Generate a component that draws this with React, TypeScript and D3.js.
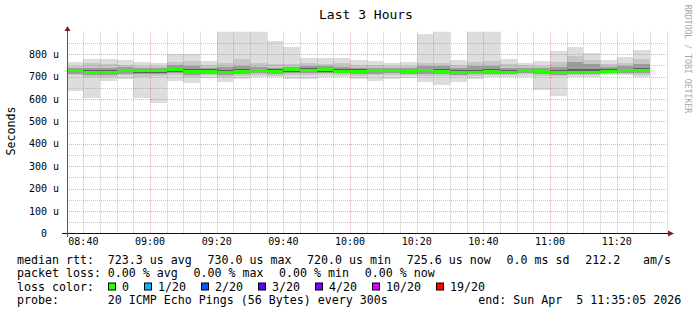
import React from 'react';
import * as d3 from 'd3';

const W = 697;
const H = 315;

// 5-minute slots (start times, UTC-labelled)
const slotStarts = [
  '08:35', '08:40', '08:45', '08:50', '08:55',
  '09:00', '09:05', '09:10', '09:15', '09:20', '09:25', '09:30', '09:35', '09:40', '09:45', '09:50', '09:55',
  '10:00', '10:05', '10:10', '10:15', '10:20', '10:25', '10:30', '10:35', '10:40', '10:45', '10:50', '10:55',
  '11:00', '11:05', '11:10', '11:15', '11:20', '11:25',
];

// values in microseconds
const median = [726, 720, 720, 725, 726, 725, 730, 724, 723, 720, 724, 726, 724, 730, 729, 730, 724, 723, 726, 727, 723, 725, 723, 720, 720, 723, 720, 726, 723, 720, 720, 720, 723, 726, 725.6];
const smokeMin = [637, 605, 681, 688, 605, 583, 681, 672, 692, 677, 688, 696, 696, 689, 689, 699, 699, 688, 681, 689, 692, 677, 662, 677, 689, 696, 699, 699, 640, 613, 699, 699, 707, 707, 699];
const smokeMax = [763, 778, 778, 774, 765, 759, 799, 800, 769, 960, 960, 950, 858, 833, 784, 781, 782, 774, 769, 762, 765, 891, 920, 774, 930, 935, 778, 762, 769, 814, 833, 804, 774, 788, 818];
const band2Lo = [705, 698, 700, 705, 700, 702, 706, 698, 705, 700, 704, 708, 704, 705, 708, 710, 708, 704, 706, 708, 706, 704, 702, 702, 704, 706, 706, 710, 704, 702, 706, 706, 710, 710, 708];
const band2Hi = [748, 760, 755, 752, 745, 748, 765, 768, 752, 760, 778, 760, 755, 755, 762, 758, 760, 752, 750, 748, 748, 760, 762, 750, 765, 768, 755, 750, 748, 765, 790, 775, 755, 762, 780];
const band3Lo = [712, 706, 708, 712, 710, 710, 714, 708, 712, 708, 712, 714, 710, 714, 714, 716, 714, 710, 712, 714, 712, 712, 710, 708, 710, 712, 710, 716, 710, 708, 710, 710, 714, 716, 714];
const band3Hi = [738, 738, 740, 742, 738, 738, 750, 748, 740, 742, 745, 742, 740, 742, 748, 745, 742, 740, 740, 740, 738, 745, 745, 738, 745, 748, 740, 740, 738, 742, 765, 755, 742, 745, 755];
const band4Lo = [718, 712, 713, 718, 716, 716, 720, 714, 716, 714, 718, 718, 716, 720, 720, 722, 718, 715, 718, 719, 716, 718, 716, 714, 714, 716, 714, 720, 716, 714, 714, 714, 718, 720, 720];
const band4Hi = [732, 728, 728, 735, 732, 734, 738, 735, 734, 728, 732, 734, 732, 736, 736, 738, 732, 732, 734, 734, 730, 734, 732, 728, 730, 734, 730, 734, 730, 730, 735, 732, 732, 735, 738];

const yTickValues = [0, 100, 200, 300, 400, 500, 600, 700, 800];
const yMinorValues = [50, 150, 250, 350, 450, 550, 650, 750, 850];

const legendRtt = ['723.3 us avg', '730.0 us max', '720.0 us min', '725.6 us now', '0.0 ms sd', '212.2 ', 'am/s'];
const legendLoss = ['0.00 % avg', '0.00 % max', '0.00 % min', '0.00 % now'];
const lossLabels = ['0', '1/20', '2/20', '3/20', '4/20', '10/20', '19/20'];
const lossColors = ['#26ff00', '#00b8ff', '#0059ff', '#5e00ff', '#7e00ff', '#dd00ff', '#ff0000'];
const probeText = '20 ICMP Echo Pings (56 Bytes) every 300s';
const endText = 'end: Sun Apr  5 11:35:05 2026';

const FONT = '"DejaVu Sans Mono", monospace';
const CW = 7.0; // legend char width
const LFS = 11.63;

const toDate = (s: string) => {
  const [h, m] = s.split(':').map(Number);
  return new Date(Date.UTC(2026, 3, 5, h, m, 0));
};

export default function App() {
  const left = 67;
  const right = 667;
  const x = d3
    .scaleUtc()
    .domain([new Date(Date.UTC(2026, 3, 5, 8, 35, 5)), new Date(Date.UTC(2026, 3, 5, 11, 35, 5))])
    .range([left, right]);
  const y = d3.scaleLinear().domain([0, 900]).range([233.3, 31.7]);
  const top = y(900);
  const bottom = 233;

  const slots = slotStarts.map((s, i) => {
    const t0 = toDate(s);
    const t1 = d3.utcMinute.offset(t0, 5);
    return {
      x0: Math.max(left, Math.round(x(t0))),
      x1: Math.round(x(t1)),
      i,
    };
  });

  const bandRect = (lo: number[], hi: number[], color: string, key: string) =>
    slots.map((s) => {
      const yt = Math.round(y(hi[s.i]));
      const yb = Math.round(y(lo[s.i]));
      return <rect key={key + s.i} x={s.x0} y={yt} width={s.x1 - s.x0} height={Math.max(0, yb - yt)} fill={color} />;
    });

  const [d0, d1] = x.domain();
  const minorX = d3.utcMinute.every(5)!.range(d0, d1).filter((d) => d.getUTCMinutes() % 20 !== 0);
  const majorX = d3.utcMinute.every(20)!.range(d0, d1);
  const fmt = d3.utcFormat('%H:%M');

  const crisp = (v: number) => Math.round(v) + 0.5;

  // legend positions
  const col2 = 107.7;
  const gap = 15.7;
  const rttX: number[] = [];
  legendRtt.reduce((acc, s) => {
    rttX.push(acc);
    return acc + s.length * CW + gap;
  }, col2);
  const lossX: number[] = [];
  legendLoss.reduce((acc, s) => {
    lossX.push(acc);
    return acc + s.length * CW + gap;
  }, col2);
  const boxX: number[] = [];
  lossLabels.reduce((acc, s) => {
    boxX.push(acc);
    return acc + 14 + s.length * CW + 15;
  }, 108);

  const b1 = 263.5, b2 = 276.5, b3 = 290.5, b4 = 304;
  const pre = { whiteSpace: 'pre' as const };

  return (
    <svg width={W} height={H} style={{ position: 'absolute', left: 0, top: 0, background: '#fff' }} xmlns="http://www.w3.org/2000/svg">
      <defs>
        <clipPath id="plot">
          <rect x={left} y={top} width={right - left} height={bottom - top} />
        </clipPath>
      </defs>
      <rect x={0} y={0} width={W} height={H} fill="#ffffff" />
      <g clipPath="url(#plot)">
        {bandRect(smokeMin, smokeMax, '#dddddd', 'a')}
        {bandRect(band2Lo, band2Hi, '#c6c6c6', 'b')}
        {bandRect(band3Lo, band3Hi, '#9c9c9c', 'c')}
        {bandRect(band4Lo, band4Hi, '#5e5e5e', 'd')}
        {slots.map((s) => {
          const ym = y(median[s.i]);
          return <rect key={'m' + s.i} x={s.x0} y={Math.round(ym - 1.5)} width={s.x1 - s.x0} height={3} fill="#26ff00" />;
        })}
      </g>
      {/* grid */}
      <g strokeWidth={1} strokeDasharray="1,1" fill="none">
        {minorX.map((d, i) => (
          <line key={'vx' + i} x1={crisp(x(d))} x2={crisp(x(d))} y1={top} y2={bottom} stroke="rgba(140,140,140,0.5)" />
        ))}
        {yMinorValues.map((v) => (
          <line key={'hy' + v} x1={left} x2={right} y1={crisp(y(v))} y2={crisp(y(v))} stroke="rgba(140,140,140,0.5)" />
        ))}
        {majorX.map((d, i) => (
          <line key={'vX' + i} x1={crisp(x(d))} x2={crisp(x(d))} y1={top} y2={bottom} stroke="rgba(200,80,80,0.45)" />
        ))}
        {yTickValues.filter((v) => v > 0).map((v) => (
          <line key={'hY' + v} x1={left} x2={right} y1={crisp(y(v))} y2={crisp(y(v))} stroke="rgba(200,80,80,0.45)" />
        ))}
      </g>
      {/* axes */}
      <line x1={62} x2={669} y1={233.5} y2={233.5} stroke="#111" strokeWidth={1} />
      <line x1={67.5} x2={67.5} y1={30} y2={237} stroke="#555" strokeWidth={1} />
      <path d="M668,230.5 L674,233.5 L668,236.5 Z" fill="#7f1f1f" />
      <path d="M64.5,31 L67.5,26 L70.5,31 Z" fill="#7f1f1f" />
      {/* y tick labels */}
      {yTickValues.map((v) => (
        <text
          key={'yl' + v}
          x={59}
          y={y(v) + 3.6}
          textAnchor="end"
          fontFamily={FONT}
          fontSize={10}
          fill="#000"
          xmlSpace="preserve"
          style={pre}
        >
          {v === 0 ? '0  ' : `${v} u`}
        </text>
      ))}
      {/* x tick labels */}
      {majorX.map((d, i) => (
        <text key={'xl' + i} x={x(d)} y={245} textAnchor="middle" fontFamily={FONT} fontSize={10} fill="#000">
          {fmt(d)}
        </text>
      ))}
      {/* title */}
      <text x={366} y={18.5} textAnchor="middle" fontFamily={FONT} fontSize={13} fill="#000">
        Last 3 Hours
      </text>
      {/* y label */}
      <text transform="translate(14.5,131) rotate(-90)" textAnchor="middle" fontFamily={FONT} fontSize={LFS} fill="#000">
        Seconds
      </text>
      {/* watermark */}
      <text transform="translate(684.5,59) rotate(90)" textAnchor="middle" fontFamily={FONT} fontSize={8.2} fill="#a8a8a8">
        RRDTOOL / TOBI OETIKER
      </text>
      {/* legend */}
      <g fontFamily={FONT} fontSize={LFS} fill="#000">
        <text x={17} y={b1}>median rtt:</text>
        {legendRtt.map((s, i) => (
          <text key={'r' + i} x={rttX[i]} y={b1} xmlSpace="preserve" style={pre}>{s}</text>
        ))}
        <text x={17} y={b2}>packet loss:</text>
        {legendLoss.map((s, i) => (
          <text key={'l' + i} x={lossX[i]} y={b2} xmlSpace="preserve" style={pre}>{s}</text>
        ))}
        <text x={17} y={b3}>loss color:</text>
        {lossLabels.map((s, i) => (
          <g key={'c' + i}>
            <rect x={boxX[i] + 0.5} y={b3 - 7.5} width={7} height={7} fill={lossColors[i]} stroke="#000" strokeWidth={1} />
            <text x={boxX[i] + 14} y={b3}>{s}</text>
          </g>
        ))}
        <text x={17} y={b4}>probe:</text>
        <text x={col2} y={b4} xmlSpace="preserve" style={pre}>{probeText}</text>
        <text x={478.3} y={b4} xmlSpace="preserve" style={pre}>{endText}</text>
      </g>
    </svg>
  );
}
